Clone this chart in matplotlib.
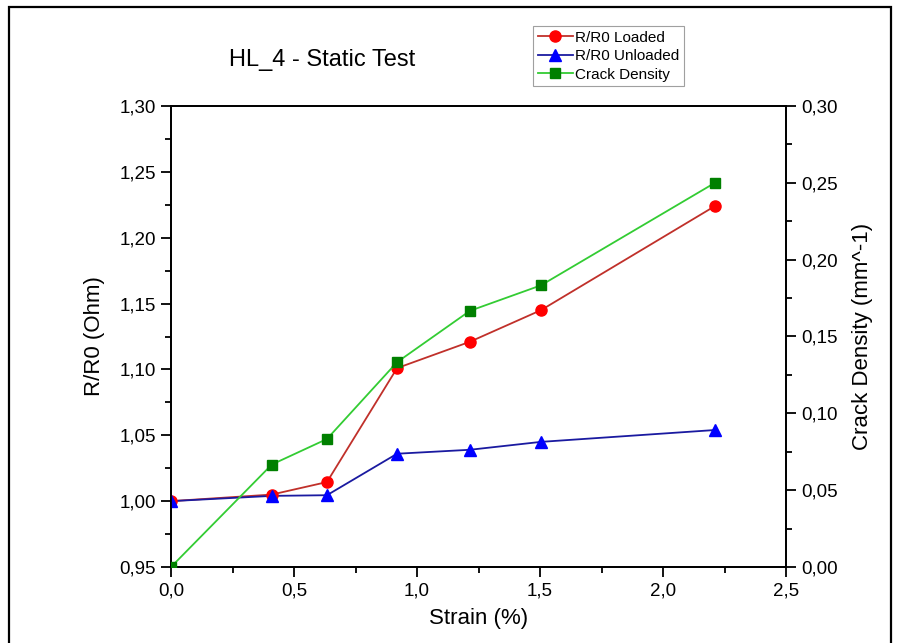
import matplotlib
matplotlib.use("Agg")
import matplotlib.pyplot as plt
from matplotlib.ticker import MultipleLocator, FuncFormatter
from matplotlib.lines import Line2D
from matplotlib.patches import Rectangle

plt.rcParams['font.family'] = ['Liberation Sans', 'DejaVu Sans']

strain = [0.0, 0.41, 0.634, 0.919, 1.215, 1.504, 2.211]
r_loaded = [1.000, 1.005, 1.0145, 1.101, 1.121, 1.145, 1.224]
r_unloaded = [1.000, 1.004, 1.0045, 1.036, 1.039, 1.045, 1.054]
crack_density = [0.0, 0.0667, 0.0833, 0.1333, 0.1667, 0.1833, 0.25]

title = "HL_4 - Static Test"
labels = ["R/R0 Loaded", "R/R0 Unloaded", "Crack Density"]


def comma(decimals):
    return FuncFormatter(lambda v, p: f"{v:.{decimals}f}".replace(".", ","))


fig = plt.figure(figsize=(8.99, 6.43), dpi=100)
ax = fig.add_axes([171 / 899, 1 - 567 / 643, 615 / 899, 461 / 643])
ax2 = ax.twinx()

# figure frame
fig.patches.append(Rectangle((9 / 899, -0.01), 882 / 899, 1 - 7 / 643 + 0.01,
                             transform=fig.transFigure, fill=False,
                             edgecolor='black', linewidth=1.6))

ax.plot(strain, r_loaded, color='#c0302a', lw=1.3, zorder=3)
ax.plot(strain, r_loaded, ls='none', marker='o', ms=8, color='#ff0000', zorder=4)
ax.plot(strain, r_unloaded, color='#1a1aa0', lw=1.3, zorder=3)
ax.plot(strain, r_unloaded, ls='none', marker='^', ms=8, color='#0000ff', zorder=4)
ax2.plot(strain, crack_density, color='#33cc33', lw=1.3, zorder=3)
ax2.plot(strain, crack_density, ls='none', marker='s', ms=7, color='#008000', zorder=4)

ax.set_xlim(0, 2.5)
ax.set_ylim(0.95, 1.30)
ax2.set_ylim(0, 0.30)

ax.xaxis.set_major_locator(MultipleLocator(0.5))
ax.xaxis.set_minor_locator(MultipleLocator(0.25))
ax.yaxis.set_major_locator(MultipleLocator(0.05))
ax.yaxis.set_minor_locator(MultipleLocator(0.025))
ax2.yaxis.set_major_locator(MultipleLocator(0.05))
ax2.yaxis.set_minor_locator(MultipleLocator(0.025))
ax.xaxis.set_major_formatter(comma(1))
ax.yaxis.set_major_formatter(comma(2))
ax2.yaxis.set_major_formatter(comma(2))

for a in (ax, ax2):
    for s in a.spines.values():
        s.set_linewidth(1.3)
    a.tick_params(which='major', direction='out', length=7, width=1.3,
                  labelsize=13.5, pad=4)
    a.tick_params(which='minor', direction='out', length=4, width=1.3)
ax.tick_params(axis='y', which='both', right=False)
ax.tick_params(axis='x', which='both', top=False)

ax.set_xlabel("Strain (%)", fontsize=16, labelpad=6)
ax.set_ylabel("R/R0 (Ohm)", fontsize=16, labelpad=10)
ax2.set_ylabel("Crack Density (mm^-1)", fontsize=16, labelpad=10)

fig.text(322 / 899, 1 - 60 / 643, title, fontsize=17, ha='center', va='center')

h1 = Line2D([], [], color='#c0302a', lw=1.3, marker='o', ms=8,
            markerfacecolor='#ff0000', markeredgecolor='#ff0000')
h2 = Line2D([], [], color='#1a1aa0', lw=1.3, marker='^', ms=8,
            markerfacecolor='#0000ff', markeredgecolor='#0000ff')
h3 = Line2D([], [], color='#33cc33', lw=1.3, marker='s', ms=7,
            markerfacecolor='#008000', markeredgecolor='#008000')
leg = fig.legend([h1, h2, h3], labels, loc='upper left',
                 bbox_to_anchor=(533 / 899, 1 - 26 / 643), fontsize=11,
                 frameon=True, fancybox=False, edgecolor='#888888',
                 handlelength=2.3, handletextpad=0.15, borderpad=0.3,
                 labelspacing=0.3, borderaxespad=0)
leg.get_frame().set_linewidth(0.8)

fig.savefig("out.png", dpi=100)
